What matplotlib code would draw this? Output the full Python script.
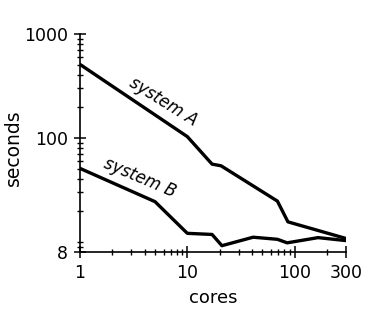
import numpy as np
import matplotlib.pyplot as plt
from matplotlib.ticker import FixedLocator, NullFormatter

# tiempos de ejecucion contra numero de cores
coresA = [1, 10, 17, 20.6, 69, 86.5, 300]
segA   = [510, 103, 56, 54, 24.7, 15.6, 10.8]

coresB = [1, 5, 10, 17, 21, 41, 69, 85, 165, 300]
segB   = [51, 24.4, 12.1, 11.8, 9.2, 11.1, 10.6, 9.8, 11.0, 10.3]

xticks = [1, 10, 100, 300]
xlabels = ['1', '10', '100', '300']
yticks = [8, 100, 1000]
ylabels = ['8', '100', '1000']
xminor = [2, 3, 4, 5, 6, 7, 8, 9, 20, 30, 40, 50, 60, 70, 80, 90, 200]
yminor = [9, 10, 20, 30, 40, 50, 60, 70, 80, 90, 200, 300, 400, 500, 600, 700, 800, 900]

plt.rcParams['font.family'] = 'DejaVu Sans'
plt.rcParams['font.size'] = 12

fig = plt.figure(figsize=(3.9, 3.25), dpi=100)
ax = fig.add_axes([0.205, 0.2246, 0.682, 0.6708])

ax.plot(coresA, segA, color='black', lw=2.4, solid_joinstyle='round')
ax.plot(coresB, segB, color='black', lw=2.4, solid_joinstyle='round')

ax.set_xscale('log')
ax.set_yscale('log')
ax.set_xlim(1, 300)
ax.set_ylim(8, 1000)

ax.xaxis.set_major_locator(FixedLocator(xticks))
ax.set_xticklabels(xlabels)
ax.yaxis.set_major_locator(FixedLocator(yticks))
ax.set_yticklabels(ylabels)
ax.xaxis.set_minor_locator(FixedLocator(xminor))
ax.yaxis.set_minor_locator(FixedLocator(yminor))
ax.xaxis.set_minor_formatter(NullFormatter())
ax.yaxis.set_minor_formatter(NullFormatter())

ax.tick_params(which='major', direction='inout', length=9, width=1.1, pad=4, labelsize=12.5)
ax.tick_params(which='minor', direction='inout', length=5, width=1.0)

for lado in ['top', 'right']:
    ax.spines[lado].set_visible(False)
for lado in ['left', 'bottom']:
    ax.spines[lado].set_linewidth(1.2)

ax.set_xlabel('cores', fontsize=13, labelpad=5)
ax.set_ylabel('seconds', fontsize=13.5, labelpad=0)
ax.yaxis.set_label_coords(-0.215, 0.48)

ax.text(5.97, 221, 'system A', rotation=-32, rotation_mode='anchor',
        ha='center', va='center', style='italic', fontsize=12)
ax.text(3.64, 41.2, 'system B', rotation=-23, rotation_mode='anchor',
        ha='center', va='center', style='italic', fontsize=12)

fig.savefig('out.png', dpi=100)
